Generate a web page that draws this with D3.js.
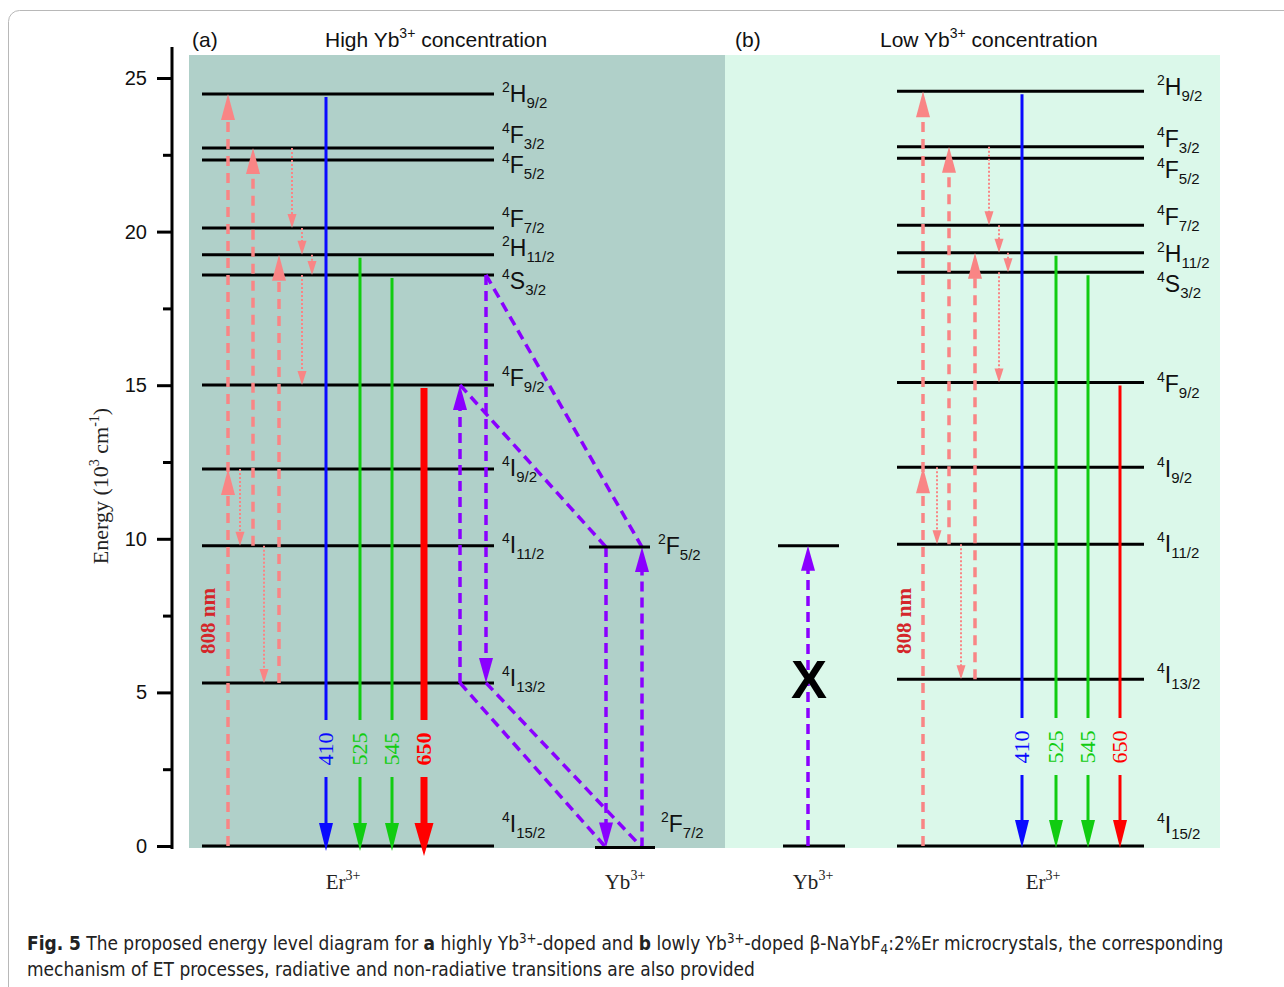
<!DOCTYPE html>
<html><head><meta charset="utf-8">
<script src="https://cdn.jsdelivr.net/npm/d3@7"></script>
<style>body{margin:0;background:#fff}svg{display:block}</style>
</head><body>
<svg id="c" width="1284" height="987"></svg>
<script>
// ---------------- data ----------------
const yTicks = [0, 5, 10, 15, 20, 25];
const yMinorTicks = [2.5, 7.5, 12.5, 17.5, 22.5];
const levelNames = ["4I15/2","4I13/2","4I11/2","4I9/2","4F9/2","4S3/2","2H11/2","4F7/2","4F5/2","4F3/2","2H9/2"];
const levelsA = [0, 5.31, 9.77, 12.27, 15.01, 18.59, 19.25, 20.12, 22.33, 22.72, 24.48];
const levelsB = [0, 5.43, 9.82, 12.33, 15.09, 18.68, 19.31, 20.21, 22.39, 22.76, 24.57];
const ybNames = ["2F7/2", "2F5/2"];
const ybA = [-0.05, 9.73];
const ybB = [0, 9.77];
const emissionLabels = ["410", "525", "545", "650"];
const emissionFrom = ["2H9/2", "2H11/2", "4S3/2", "4F9/2"];
const emissionTo = "4I15/2";
// pump (808 nm) excitation steps: [from, to]
const pumpSteps = [["4I15/2", "2H9/2"], ["4I11/2", "4F3/2"], ["4I13/2", "2H11/2"]];
const pumpMidStep = "4I9/2";
// non-radiative relaxations: [from, to]
const relaxSteps = [["4F3/2","4F7/2"],["4F7/2","2H11/2"],["2H11/2","4S3/2"],["4S3/2","4F9/2"],["4I9/2","4I11/2"],["4I11/2","4I13/2"]];
// energy transfer (panel a): Er step, Yb step
const etSteps = [
  {er: ["4I13/2", "4F9/2"], yb: ["2F5/2", "2F7/2"]},
  {er: ["4S3/2", "4I13/2"], yb: ["2F7/2", "2F5/2"]}
];
const pumpLabel = "808 nm";
const titleA = ["(a)", "High Yb", "3+", " concentration"];
const titleB = ["(b)", "Low Yb", "3+", " concentration"];
const captionLine1 = [["Fig. 5", 1, 0], [" The proposed energy level diagram for ", 0, 0], ["a", 1, 0], [" highly Yb", 0, 0], ["3+", 0, -1],
 ["-doped and ", 0, 1], ["b", 1, 0], [" lowly Yb", 0, 0], ["3+", 0, -1], ["-doped β-NaYbF", 0, 1], ["4", 0, 2],
 [":2%Er microcrystals, the corresponding", 0, -2]];
const captionLine2 = "mechanism of ET processes, radiative and non-radiative transitions are also provided";

// ---------------- layout ----------------
const SANS = "'Liberation Sans', Arial, sans-serif";
const SERIF = "'Liberation Serif', 'Times New Roman', serif";
const PINK = "#f98585", PURPLE = "#8a00ff", BLUE = "#0a0aff", GREEN = "#11cc11", RED = "#ff0000", DRED = "#d4262a";
const emColors = [BLUE, GREEN, GREEN, RED];

const svg = d3.select("#c");
const y = d3.scaleLinear().domain([0, 25]).range([846, 78]);

// frame
svg.append("rect").attr("x", 8.5).attr("y", 10.5).attr("width", 1330).attr("height", 1020)
  .attr("rx", 11).attr("fill", "none").attr("stroke", "#b8b8b8").attr("stroke-width", 1);

// panel backgrounds
svg.append("rect").attr("x", 189).attr("y", 55).attr("width", 536).attr("height", 793).attr("fill", "#b0d0c9");
svg.append("rect").attr("x", 725).attr("y", 55).attr("width", 495).attr("height", 793).attr("fill", "#dbf8ea");

// axis
const axisG = svg.append("g").attr("transform", "translate(172,0)");
axisG.call(d3.axisLeft(y).tickValues(yTicks).tickSize(15).tickPadding(10).tickSizeOuter(0));
axisG.append("g").call(d3.axisLeft(y).tickValues(yMinorTicks).tickSize(9).tickFormat("").tickSizeOuter(0));
axisG.selectAll(".domain").remove();
axisG.selectAll("line").attr("stroke", "#000").attr("stroke-width", 3);
axisG.selectAll("text").attr("font-family", SANS).attr("font-size", 20).attr("fill", "#111");
svg.append("line").attr("x1", 172).attr("x2", 172).attr("y1", 47).attr("y2", 849)
  .attr("stroke", "#000").attr("stroke-width", 3);

// y title
const yt = svg.append("text").attr("transform", "translate(108,486) rotate(-90)")
  .attr("text-anchor", "middle").attr("font-family", SERIF).attr("font-size", 22).attr("fill", "#222");
yt.append("tspan").text("Energy (10");
yt.append("tspan").attr("font-size", 14).attr("dy", -9).text("3");
yt.append("tspan").attr("dy", 9).text(" cm");
yt.append("tspan").attr("font-size", 14).attr("dy", -9).text("-1");
yt.append("tspan").attr("dy", 9).text(")");

// titles
function title(t, xa, xt) {
  svg.append("text").attr("x", xa).attr("y", 47).attr("font-family", SANS).attr("font-size", 21).attr("fill", "#111").text(t[0]);
  const tx = svg.append("text").attr("x", xt).attr("y", 47).attr("font-family", SANS).attr("font-size", 21).attr("fill", "#111");
  tx.append("tspan").text(t[1]);
  tx.append("tspan").attr("font-size", 14).attr("dy", -9).text(t[2]);
  tx.append("tspan").attr("dy", 9).text(t[3]);
}
title(titleA, 192, 325);
title(titleB, 735, 880);

// helpers
function levelLabel(g, name, x, yb) {
  const t = g.append("text").attr("x", x).attr("y", yb).attr("font-family", SANS).attr("fill", "#111");
  t.append("tspan").attr("font-size", 14).attr("dy", -10).text(name[0]);
  t.append("tspan").attr("font-size", 23).attr("dy", 10).text(name[1]);
  t.append("tspan").attr("font-size", 15).attr("dy", 6).text(name.slice(2));
}
function arrow(g, x, yStart, yTip, o) {
  const dir = yTip < yStart ? -1 : 1;
  const yBase = yTip - dir * o.headL;
  g.append("line").attr("x1", x).attr("x2", x).attr("y1", yStart).attr("y2", yBase + dir * 2)
    .attr("stroke", o.color).attr("stroke-width", o.width).attr("stroke-dasharray", o.dash || null);
  head(g, x, yTip, dir, o);
}
function head(g, x, yTip, dir, o) {
  const yBase = yTip - dir * o.headL;
  g.append("path").attr("d", `M${x},${yTip}L${x - o.headW / 2},${yBase}L${x + o.headW / 2},${yBase}Z`).attr("fill", o.color);
}
const sPumpDash = {color: PINK, width: 3.5, dash: "10,7", headW: 14, headL: 26};
const sDot = {color: PINK, width: 2, dash: "2,2", headW: 9, headL: 14};
const sPurple = {color: PURPLE, width: 3.5, dash: "10,6", headW: 14, headL: 25};

function drawEr(g, levels, L) {
  const E = n => levels[levelNames.indexOf(n)];
  g.selectAll(".lvl").data(levels).join("line")
    .attr("x1", L.x1).attr("x2", L.x2).attr("y1", d => y(d)).attr("y2", d => y(d))
    .attr("stroke", "#000").attr("stroke-width", 3);
  levelNames.forEach((n, i) => levelLabel(g, n, L.labelX, y(levels[i]) + L.labelOff[i]));
  pumpSteps.forEach((s, i) => arrow(g, L.pumpX[i], y(E(s[0])), y(E(s[1])), sPumpDash));
  head(g, L.pumpX[0], y(E(pumpMidStep)), -1, sPumpDash);
  relaxSteps.forEach((s, i) => arrow(g, L.relaxX[i], y(E(s[0])), y(E(s[1])), sDot));
  emissionFrom.forEach((n, i) => {
    const thick = L.boldRed && i === 3;
    const o = {color: emColors[i], width: thick ? 7 : 3, headW: thick ? 19 : 14, headL: thick ? 33 : 28};
    const x = L.emX[i];
    const tip = y(E(emissionTo)) + (thick ? 10 : L.tipOff);
    g.append("line").attr("x1", x).attr("x2", x).attr("y1", y(E(n)) + 3).attr("y2", L.gap[0])
      .attr("stroke", o.color).attr("stroke-width", o.width);
    arrow(g, x, L.gap[1], tip, o);
    g.append("text").attr("transform", `translate(${x + 7},${L.labelY}) rotate(-90)`)
      .attr("text-anchor", "middle").attr("font-family", SERIF).attr("font-size", 22)
      .attr("font-weight", thick ? "bold" : "normal").attr("fill", emColors[i]).text(emissionLabels[i]);
  });
  g.append("text").attr("transform", `translate(${L.pumpLabelX},621) rotate(-90)`)
    .attr("text-anchor", "middle").attr("font-family", SERIF).attr("font-size", 21)
    .attr("font-weight", "bold").attr("fill", DRED).text(pumpLabel);
}
function ionLabel(x, name) {
  const t = svg.append("text").attr("x", x).attr("y", 889).attr("text-anchor", "middle")
    .attr("font-family", SERIF).attr("font-size", 21).attr("fill", "#222");
  t.append("tspan").text(name);
  t.append("tspan").attr("font-size", 14).attr("dy", -9).text("3+");
}

// ---------- panel a ----------
const gA = svg.append("g");
drawEr(gA, levelsA, {
  x1: 202, x2: 494, labelX: 502,
  labelOff: [-14, 3, 7, 7, 1, 14, 1, -1, 13, -5, 8],
  pumpX: [228, 253, 279], relaxX: [292, 302, 312, 302, 240, 264],
  emX: [326, 360, 392, 424], gap: [720, 777], labelY: 749, tipOff: 5, boldRed: true, pumpLabelX: 215
});
const ybAG = svg.append("g");
const ybAx = [[595, 655], [589, 650]];
ybA.forEach((e, i) => ybAG.append("line").attr("x1", ybAx[i][0]).attr("x2", ybAx[i][1])
  .attr("y1", y(e)).attr("y2", y(e)).attr("stroke", "#000").attr("stroke-width", 3));
levelLabel(ybAG, ybNames[1], 658, y(ybA[1]) + 7);
levelLabel(ybAG, ybNames[0], 661, y(ybA[0]) - 16);
const EA = n => levelsA[levelNames.indexOf(n)];
const EY = n => ybA[ybNames.indexOf(n)];
const etErX = [460, 486], etYbX = [606, 642];
etSteps.forEach((s, i) => {
  arrow(gA, etErX[i], y(EA(s.er[0])), y(EA(s.er[1])), sPurple);
  arrow(gA, etYbX[i], y(EY(s.yb[0])), y(EY(s.yb[1])), sPurple);
  const erE = s.er.map(EA).sort(d3.ascending), ybE = s.yb.map(EY).sort(d3.ascending);
  [0, 1].forEach(k => {
    gA.append("line").attr("x1", etErX[i]).attr("y1", y(erE[k]))
      .attr("x2", etYbX[i]).attr("y2", y(ybE[k]))
      .attr("stroke", PURPLE).attr("stroke-width", 3.5).attr("stroke-dasharray", "10,6");
  });
});
ionLabel(343, "Er");
ionLabel(625, "Yb");

// ---------- panel b ----------
const gB = svg.append("g");
drawEr(gB, levelsB, {
  x1: 897, x2: 1144, labelX: 1157,
  labelOff: [-13, 4, 8, 10, 10, 20, 9, 0, 20, 0, 4],
  pumpX: [923, 949, 975], relaxX: [989, 999, 1008, 999, 937, 961],
  emX: [1022, 1056, 1088, 1120], gap: [718, 775], labelY: 747, tipOff: 2, boldRed: false, pumpLabelX: 911
});
const ybBx = [[783, 845], [778, 839]];
ybB.forEach((e, i) => gB.append("line").attr("x1", ybBx[i][0]).attr("x2", ybBx[i][1])
  .attr("y1", y(e)).attr("y2", y(e)).attr("stroke", "#000").attr("stroke-width", 3));
arrow(gB, 808, y(ybB[0]), y(ybB[1]), sPurple);
gB.append("text").attr("x", 809).attr("y", 698).attr("text-anchor", "middle")
  .attr("font-family", SANS).attr("font-weight", "bold").attr("font-size", 54).attr("fill", "#000").text("X");
ionLabel(813, "Yb");
ionLabel(1043, "Er");

// ---------- caption (font size fitted to the reference line widths) ----------
const CAPF = "'Liberation Sans Narrow', 'Arial Narrow', 'DejaVu Sans Condensed', sans-serif";
function buildLine1(fs) {
  const t = svg.append("text").attr("x", 27).attr("y", 950).attr("font-family", CAPF)
    .attr("font-size", fs).attr("fill", "#222");
  captionLine1.forEach(([s, b, k]) => {
    const ts = t.append("tspan").text(s).attr("font-weight", b ? "bold" : "normal");
    if (k === -1) ts.attr("dy", -0.36 * fs).attr("font-size", 0.7 * fs);
    if (k === 1) ts.attr("dy", 0.36 * fs);
    if (k === 2) ts.attr("dy", 0.2 * fs).attr("font-size", 0.7 * fs);
    if (k === -2) ts.attr("dy", -0.2 * fs);
  });
  return t;
}
let l1 = buildLine1(20);
const w1 = l1.node().getComputedTextLength();
l1.remove();
const fs1 = 20 * 1197 / w1;
buildLine1(fs1);
const l2 = svg.append("text").attr("x", 27).attr("y", 976).attr("font-family", CAPF)
  .attr("font-size", fs1).attr("fill", "#222").text(captionLine2);
</script>
</body></html>
